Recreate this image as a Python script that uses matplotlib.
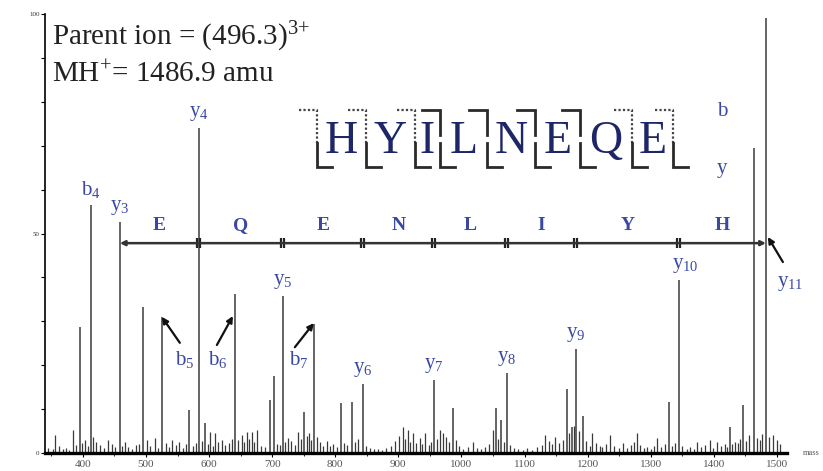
import matplotlib
matplotlib.use("Agg")
import matplotlib.pyplot as plt

plt.rcParams["font.family"] = ["Liberation Serif", "DejaVu Serif"]
plt.rcParams["mathtext.fontset"] = "custom"
plt.rcParams["mathtext.rm"] = "Liberation Serif"
plt.rcParams["mathtext.it"] = "Liberation Serif:italic"

# larger peaks: m/z and relative intensity (%)
peak_mz = [395.2, 412.7, 458.6, 495.1, 525.2, 568.0, 583.9, 593.4, 640.9, 696.4,
           702.7, 717.0, 750.3, 766.1, 808.9, 826.4, 843.8, 956.3, 986.5, 1054.6,
           1062.5, 1072.1, 1167.1, 1175.1, 1181.4, 1192.5, 1328.8, 1344.7, 1425.5,
           1446.1, 1463.5, 1482.6]
peak_int = [28.7, 56.5, 52.6, 33.3, 31.0, 9.8, 74.0, 6.8, 36.2, 12.1,
            17.5, 35.8, 9.3, 29.4, 11.4, 11.6, 15.7, 16.6, 10.3, 10.3,
            7.5, 18.2, 14.6, 5.9, 23.7, 8.4, 11.6, 39.4, 5.9,
            10.9, 69.5, 99.1]

# low-level peaks along the baseline
noise_mz = [345, 352, 356, 362, 368, 373, 378, 384, 389, 398,
            403, 408, 416, 421, 427, 433, 440, 446, 451, 462,
            467, 472, 478, 484, 489, 501, 507, 514, 519, 531,
            536, 541, 547, 553, 559, 563, 574, 579, 589, 598,
            601, 606, 609, 614, 620, 626, 631, 636, 646, 652,
            656, 660, 664, 668, 672, 676, 682, 688, 708, 712,
            721, 725, 730, 736, 741, 746, 755, 759, 762, 771,
            776, 781, 787, 792, 797, 803, 814, 819, 832, 836,
            849, 855, 861, 868, 874, 881, 888, 895, 901, 907,
            911, 915, 919, 923, 928, 934, 938, 942, 948, 951,
            961, 966, 971, 976, 981, 991, 996, 1003, 1010, 1018,
            1024, 1031, 1038, 1044, 1050, 1058, 1067, 1077, 1083, 1090,
            1097, 1104, 1112, 1120, 1127, 1132, 1139, 1144, 1148, 1155,
            1161, 1171, 1178, 1186, 1197, 1203, 1207, 1214, 1219, 1223,
            1229, 1235, 1242, 1249, 1256, 1262, 1268, 1273, 1278, 1283,
            1289, 1294, 1300, 1305, 1310, 1316, 1322, 1334, 1339, 1350,
            1357, 1363, 1369, 1373, 1379, 1386, 1394, 1399, 1405, 1411,
            1417, 1421, 1429, 1433, 1438, 1442, 1451, 1456, 1468, 1473,
            1477, 1488, 1494, 1500, 1505]
noise_int = [1.2, 0.8, 4.1, 1.5, 0.9, 1.1, 0.7, 5.2, 1.8, 2.2,
             3.0, 1.6, 3.6, 2.4, 1.9, 1.2, 3.0, 2.1, 1.4, 1.7,
             2.5, 1.3, 0.9, 1.8, 2.0, 3.0, 1.5, 3.4, 1.1, 2.2,
             1.4, 3.0, 1.9, 2.6, 1.2, 2.0, 1.6, 2.3, 2.8, 2.1,
             4.8, 1.7, 4.5, 2.4, 3.0, 1.9, 2.2, 3.1, 2.9, 4.1,
             2.6, 4.8, 3.2, 4.8, 2.5, 5.2, 1.6, 1.3, 2.0, 1.8,
             2.4, 3.4, 2.7, 1.9, 4.8, 3.3, 3.9, 4.6, 3.0, 3.6,
             2.4, 1.5, 2.8, 1.7, 2.0, 1.3, 2.2, 1.8, 2.6, 3.2,
             1.6, 1.1, 0.8, 1.0, 0.6, 1.2, 1.6, 2.7, 3.8, 5.9,
             3.1, 5.2, 2.6, 4.5, 2.2, 3.4, 2.0, 4.5, 1.8, 2.4,
             3.2, 5.2, 4.5, 3.6, 2.5, 3.0, 1.6, 1.0, 1.3, 2.5,
             1.2, 0.8, 1.4, 2.1, 5.2, 3.3, 2.6, 1.9, 1.2, 0.9,
             0.6, 1.1, 0.7, 1.3, 1.8, 4.1, 2.7, 2.0, 3.6, 2.3,
             3.0, 4.6, 6.2, 5.0, 2.8, 1.7, 4.5, 2.2, 1.5, 1.4,
             2.0, 4.1, 1.6, 1.2, 2.3, 1.1, 1.8, 2.5, 4.5, 1.9,
             1.2, 1.4, 1.0, 1.6, 3.4, 1.3, 2.0, 1.5, 2.2, 1.7,
             1.0, 1.4, 0.9, 2.5, 1.3, 1.9, 3.0, 1.2, 2.5, 1.6,
             2.1, 1.4, 2.0, 2.5, 2.3, 3.2, 2.8, 4.0, 3.5, 3.0,
             4.4, 3.6, 4.1, 3.0, 2.0]

# ions labelled directly above their peak
ion_names = ["b_{4}", "y_{3}", "y_{4}", "y_{5}", "y_{6}", "y_{7}", "y_{8}", "y_{9}", "y_{10}"]
ion_mz = [412.7, 458.6, 583.9, 717.0, 843.8, 956.3, 1072.1, 1181.4, 1344.7]

# y-ion ladder and residues read between consecutive y ions
ladder_mz = [458.6, 583.9, 717.0, 843.8, 956.3, 1072.1, 1181.4, 1344.7, 1482.6]
ladder_res = ["E", "Q", "E", "N", "L", "I", "Y", "H"]

# sequence with fragment markers (b observed flags)
sequence = "HYILNEQE"
b_seen = [False, False, False, True, True, True, True, False, False]

BLUE = "#3a48a4"
NAVY = "#1d2768"
PEAK = "#3a3a3a"

fig = plt.figure(figsize=(8.23, 4.71), dpi=100)
ax = fig.add_axes([45 / 823, 18 / 471, 742 / 823, 439 / 471])
ax.set_xlim(340, 1516)
ax.set_ylim(0, 100)

ax.vlines(noise_mz, 0, noise_int, color=PEAK, lw=0.9)
ax.vlines(peak_mz, 0, peak_int, color=PEAK, lw=1.1)

for s in ("top", "right"):
    ax.spines[s].set_visible(False)
ax.spines["bottom"].set_linewidth(2.4)
ax.spines["left"].set_linewidth(1.2)

ax.set_xticks(range(400, 1501, 100))
ax.set_xticklabels([str(v) for v in range(400, 1501, 100)], fontsize=8, color="#555555")
ax.set_xticks(range(350, 1501, 50), minor=True)
ax.tick_params(axis="x", which="major", length=3, width=0.8, pad=2)
ax.tick_params(axis="x", which="minor", length=2, width=0.6)
ax.set_yticks(range(0, 101, 10))
ax.set_yticklabels(["0", "", "", "", "", "50", "", "", "", "", "100"], fontsize=5,
                   color="#333333")
ax.tick_params(axis="y", length=3, width=0.8, pad=1)
ax.text(1.022, 0, "mass", transform=ax.transAxes, fontsize=6, va="center", color="#555555")

# header text
ax.text(350.9, 92.9, r"Parent ion = (496.3)$^{\mathregular{3{+}}}$", fontsize=21,
        color="#222222", va="baseline")
ax.text(350.9, 84.5, r"MH$^{\mathregular{+}}$= 1486.9 amu", fontsize=21,
        color="#222222", va="baseline")

# ion labels above peaks
lookup = dict(zip(peak_mz, peak_int))
for name, mz in zip(ion_names, ion_mz):
    dx = 10 if name == "y_{10}" else 0
    ax.text(mz + dx, lookup[mz] + 1.2, rf"$\mathregular{{{name}}}$", fontsize=15,
            color=BLUE, ha="center", va="bottom")

# labels with arrows
arrow_names = ["b_{5}", "b_{6}", "b_{7}", "y_{11}"]
arrow_text = [(561.7, 21.4), (614.0, 21.4), (742.4, 21.4), (1520.6, 38.7)]
arrow_tail = [(553.7, 25.1), (612.4, 24.6), (736.0, 24.1), (1509.5, 43.5)]
arrow_tip = [(525.2, 31.0), (637.8, 31.2), (766.1, 29.6), (1485.7, 49.2)]
for name, tp, tail, tip in zip(arrow_names, arrow_text, arrow_tail, arrow_tip):
    ax.text(tp[0], tp[1], rf"$\mathregular{{{name}}}$", fontsize=15, color=BLUE,
            ha="center", va="center", clip_on=False)
    ax.annotate("", xy=tip, xytext=tail,
                arrowprops=dict(arrowstyle="-|>", lw=1.6, color="#111111",
                                mutation_scale=9, shrinkA=0, shrinkB=0))

# y-ion ladder bracket
ladder_y = 47.8
ax.annotate("", xy=(ladder_mz[-1], ladder_y), xytext=(ladder_mz[0], ladder_y),
            arrowprops=dict(arrowstyle="<|-|>", lw=1.8, color="#333333",
                            mutation_scale=7, shrinkA=0, shrinkB=0))
for mz in ladder_mz[1:-1]:
    ax.plot([mz - 2.5, mz + 2.5], [ladder_y, ladder_y], ls="none", marker="|",
            ms=7, mew=1.6, color="#222222")
for a, b, res in zip(ladder_mz[:-1], ladder_mz[1:], ladder_res):
    ax.text((a + b) / 2, 51.9, res, fontsize=14, fontweight="bold", color=BLUE,
            ha="center", va="center")

# sequence with fragmentation markers
cuts = [770.9, 848.6, 926.2, 965.8, 1040.3, 1116.4, 1187.8, 1270.2, 1335.2]
for x, seen in zip(cuts, b_seen):
    if seen:
        ax.plot([x - 28, x, x], [78.1, 78.1, 72.4], color="#2a2a2a", lw=2.0,
                solid_joinstyle="miter")
    else:
        ax.plot([x - 28, x, x], [78.1, 78.1, 70.6], color="#444444", lw=1.6,
                ls=(0, (1, 1)))
    ax.plot([x, x, x + 24], [70.6, 65.1, 65.1], color="#2a2a2a", lw=2.0,
            solid_joinstyle="miter")
for a, b, aa in zip(cuts[:-1], cuts[1:], sequence):
    ax.text((a + b) / 2, 68.3, aa, fontsize=33, color=NAVY, ha="center", va="baseline")
ax.text(1412.8, 77.7, "b", fontsize=15, color=BLUE, ha="center", va="center")
ax.text(1412.8, 64.9, "y", fontsize=15, color=BLUE, ha="center", va="center")

fig.savefig("out.png", dpi=100)
